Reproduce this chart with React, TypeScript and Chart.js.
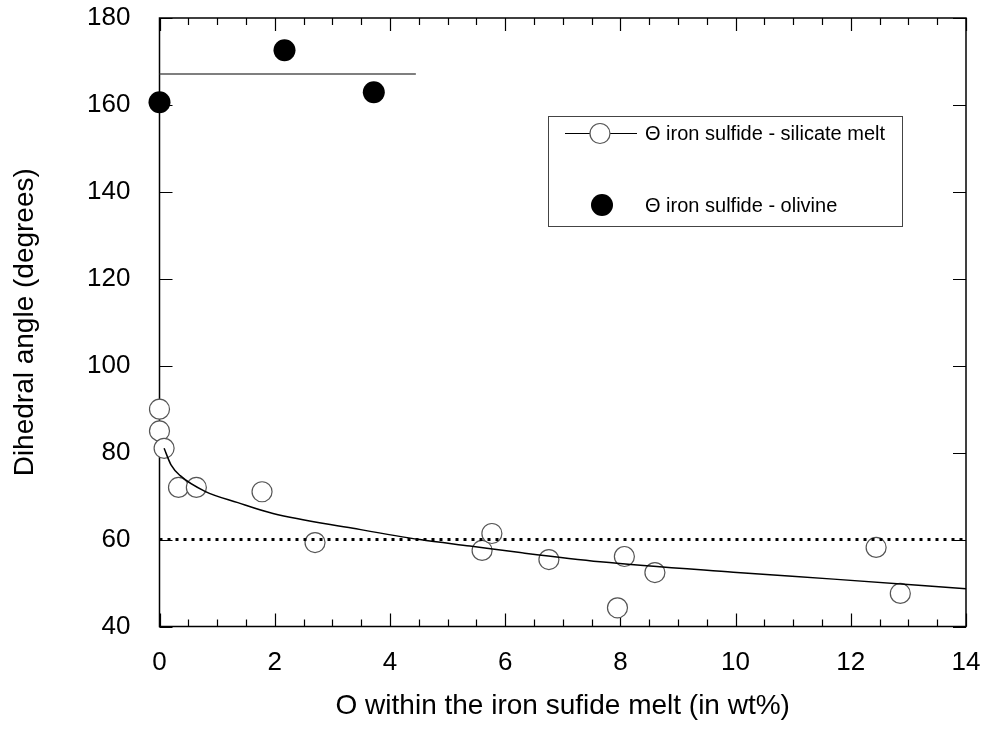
import React, { useEffect, useRef } from "react";
import { Chart, registerables } from "chart.js";

Chart.register(...registerables);

// Open circles: iron sulfide - silicate melt
const meltX = [0, 0, 0.08, 0.33, 0.64, 1.78, 2.7, 5.6, 5.77, 6.76, 7.95, 8.07, 8.6, 12.44, 12.86];
const meltY = [90, 85, 81, 72, 72, 71, 59.3, 57.5, 61.4, 55.4, 44.3, 56.1, 52.4, 58.2, 47.6];

// Filled circles: iron sulfide - olivine
const olivineX = [0, 2.17, 3.72];
const olivineY = [160.6, 172.6, 162.9];

// Fitted curve
const curveX = [0.08, 0.2, 0.36, 0.79, 1.36, 1.97, 3.36, 4.52, 5.39, 6.26, 7.65, 9.96, 11.7, 14];
const curveY = [81, 77.2, 74.7, 71.1, 68.5, 66.0, 62.6, 60.0, 58.5, 57.0, 54.9, 52.5, 50.9, 48.7];

// Mean olivine line
const meanX = [0, 4.45];
const meanY = [167.1, 167.1];

// Dotted reference at 60 degrees
const refX = [0, 14];
const refY = [60, 60];

const xTicks = [0, 2, 4, 6, 8, 10, 12, 14];
const yTicks = [40, 60, 80, 100, 120, 140, 160, 180];

const legendLabels = ["Θ iron sulfide - silicate melt", "Θ iron sulfide - olivine"];

const FONT = "'Liberation Sans', Arial, Helvetica, sans-serif";

const pts = (xs: number[], ys: number[]) => xs.map((x, i) => ({ x, y: ys[i] }));

const framePlugin = {
  id: "frame",
  beforeDatasetsDraw(chart: any) {
    const { ctx, chartArea: a, scales } = chart;
    const xs = scales.x;
    const ys = scales.y;
    ctx.save();
    ctx.strokeStyle = "#000";
    ctx.lineWidth = 1.5;
    ctx.strokeRect(a.left, a.top, a.right - a.left, a.bottom - a.top);
    ctx.lineWidth = 1.2;
    ctx.beginPath();
    for (let v = 0; v <= 14.001; v += 0.5) {
      const px = Math.round(xs.getPixelForValue(v)) + 0.5;
      const major = Math.abs(v / 2 - Math.round(v / 2)) < 1e-6;
      const len = major ? 13 : 7;
      ctx.moveTo(px, a.bottom);
      ctx.lineTo(px, a.bottom - len);
      ctx.moveTo(px, a.top);
      ctx.lineTo(px, a.top + len);
    }
    for (const v of yTicks) {
      const py = Math.round(ys.getPixelForValue(v)) + 0.5;
      ctx.moveTo(a.left, py);
      ctx.lineTo(a.left + 13, py);
      ctx.moveTo(a.right, py);
      ctx.lineTo(a.right - 13, py);
    }
    ctx.stroke();
    ctx.restore();
  },
  afterDraw(chart: any) {
    const { ctx } = chart;
    ctx.save();
    // legend box
    ctx.strokeStyle = "#444";
    ctx.lineWidth = 1;
    ctx.strokeRect(548.5, 116.5, 354, 110);
    // silicate melt entry
    ctx.strokeStyle = "#000";
    ctx.beginPath();
    ctx.moveTo(565, 133.5);
    ctx.lineTo(637, 133.5);
    ctx.stroke();
    ctx.beginPath();
    ctx.arc(600, 133.5, 10, 0, Math.PI * 2);
    ctx.fillStyle = "#fff";
    ctx.fill();
    ctx.strokeStyle = "#555";
    ctx.lineWidth = 1.2;
    ctx.stroke();
    // olivine entry
    ctx.beginPath();
    ctx.arc(602, 205, 11, 0, Math.PI * 2);
    ctx.fillStyle = "#000";
    ctx.fill();
    ctx.fillStyle = "#000";
    ctx.font = `20px ${FONT}`;
    ctx.textBaseline = "middle";
    ctx.textAlign = "left";
    ctx.fillText(legendLabels[0], 645, 134);
    ctx.fillText(legendLabels[1], 645, 206);
    ctx.restore();
  },
};

export default function App() {
  const ref = useRef<HTMLCanvasElement>(null);

  useEffect(() => {
    if (!ref.current) return;
    const chart = new Chart(ref.current, {
      type: "scatter",
      data: {
        datasets: [
          {
            type: "line",
            label: "fit",
            data: pts(curveX, curveY),
            borderColor: "#000",
            borderWidth: 1.5,
            pointRadius: 0,
            cubicInterpolationMode: "monotone",
            fill: false,
          } as any,
          {
            type: "line",
            label: "60",
            data: pts(refX, refY),
            borderColor: "#000",
            borderWidth: 3,
            borderDash: [3, 5],
            pointRadius: 0,
            fill: false,
          } as any,
          {
            type: "line",
            label: "mean",
            data: pts(meanX, meanY),
            borderColor: "#555",
            borderWidth: 1.5,
            pointRadius: 0,
            fill: false,
          } as any,
          {
            label: legendLabels[0],
            data: pts(meltX, meltY),
            pointRadius: 10,
            pointBackgroundColor: "#fff",
            pointBorderColor: "#555",
            pointBorderWidth: 1.2,
            clip: false,
          } as any,
          {
            label: legendLabels[1],
            data: pts(olivineX, olivineY),
            pointRadius: 11,
            pointBackgroundColor: "#000",
            pointBorderColor: "#000",
            pointBorderWidth: 0,
            clip: false,
          } as any,
        ],
      },
      options: {
        animation: false,
        responsive: false,
        devicePixelRatio: 1,
        layout: { padding: { top: 18, right: 20, left: 0, bottom: 0 } },
        plugins: {
          legend: { display: false },
          tooltip: { enabled: false },
        },
        scales: {
          x: {
            type: "linear",
            min: 0,
            max: 14,
            afterBuildTicks: (s: any) => {
              s.ticks = xTicks.map((v) => ({ value: v }));
            },
            afterFit: (s: any) => {
              s.height = 122.5;
              s.paddingLeft = 0;
              s.paddingRight = 0;
            },
            grid: { display: false, drawTicks: false },
            border: { display: false },
            ticks: {
              color: "#000",
              font: { family: FONT, size: 26 },
              padding: 21,
              maxRotation: 0,
            },
            title: {
              display: true,
              text: "O within the iron sufide melt (in wt%)",
              color: "#000",
              font: { family: FONT, size: 28 },
              padding: 26,
            },
          },
          y: {
            type: "linear",
            min: 40,
            max: 180,
            afterBuildTicks: (s: any) => {
              s.ticks = yTicks.map((v) => ({ value: v }));
            },
            afterFit: (s: any) => {
              s.width = 159.5;
              s.paddingTop = 0;
              s.paddingBottom = 0;
            },
            grid: { display: false, drawTicks: false },
            border: { display: false },
            ticks: {
              color: "#000",
              font: { family: FONT, size: 26 },
              padding: 29,
            },
            title: {
              display: true,
              text: "Dihedral angle (degrees)",
              color: "#000",
              font: { family: FONT, size: 28 },
              padding: 8,
            },
          },
        },
      } as any,
      plugins: [framePlugin],
    });
    return () => chart.destroy();
  }, []);

  return (
    <div style={{ position: "fixed", left: 0, top: 0, width: 986, height: 749, background: "#fff" }}>
      <canvas ref={ref} width={986} height={749} style={{ display: "block" }} />
    </div>
  );
}
